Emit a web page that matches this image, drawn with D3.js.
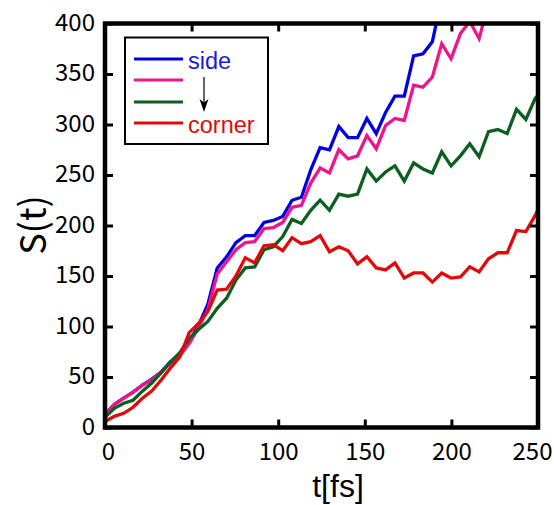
<!DOCTYPE html>
<html>
<head>
<meta charset="utf-8">
<script src="https://cdn.jsdelivr.net/npm/d3@7/dist/d3.min.js"></script>
<style>
  html, body { margin: 0; padding: 0; background: #ffffff; }
  svg { display: block; }
</style>
</head>
<body>
<svg id="chart" width="554" height="505"></svg>
<script>
// ---- data ----
const timeFs = [0, 5.4, 10.8, 16.2, 21.6, 27, 32.4, 37.8, 43.2, 48.6, 54, 59.4, 64.8, 70.2, 75.6, 81,
  86.4, 91.8, 97.2, 102.6, 108, 113.4, 118.8, 124.2, 129.6, 135, 140.4, 145.8, 151.2, 156.6, 162,
  167.4, 172.8, 178.2, 183.6, 189, 194.4, 199.8, 205.2, 210.6, 216, 221.4, 226.8, 232.2, 237.6,
  243, 248.4, 253.8];

const sideBlue = [13, 23, 29, 35, 42, 48, 55, 65, 72, 85, 101, 122, 158, 169, 183, 190,
  190, 203, 205, 209, 225, 228, 255, 277, 275, 298, 287, 287, 306, 291, 312,
  328, 328, 368, 370, 382, 425];

const seriesPink = [12, 23, 29, 35, 42, 47, 55, 64, 71, 83, 99, 117, 152, 164, 176, 183,
  184, 197, 198, 203, 218, 220, 242, 257, 252, 275, 266, 269, 289, 276, 299,
  306, 304, 339, 337, 347, 380, 365, 390, 402, 385, 420];

const seriesGreen = [10, 19, 24, 27, 36, 44, 54, 65, 74, 88, 97, 105, 118, 128, 146, 158,
  159, 176, 179, 189, 206, 202, 215, 225, 215, 231, 229, 231, 256, 244, 253,
  259, 244, 262, 256, 252, 273, 259, 269, 281, 268, 293, 295, 291, 315, 305, 326, 335];

const cornerRed = [6, 11, 14, 20, 29, 36, 47, 59, 70, 94, 103, 115, 136, 137, 150, 168,
  163, 180, 181, 175, 188, 182, 184, 190, 174, 179, 175, 162, 169, 158, 156,
  163, 148, 153, 153, 144, 153, 148, 149, 159, 154, 167, 173, 173, 195, 194, 210, 230];

const xTicks = [0, 50, 100, 150, 200, 250];
const yTicks = [0, 50, 100, 150, 200, 250, 300, 350, 400];
const legendLabels = ["side", "", "", "corner"];
const seriesColors = ["#0000e0", "#f0148c", "#0b5f1f", "#e00a0a"];
const xTitle = "t[fs]";
const yTitle = "S(t)";

// ---- layout ----
const svg = d3.select("#chart");
const L = 105, R = 538, T = 23.5, B = 427.5;
const x = d3.scaleLinear().domain([0, 250]).range([L, R]);
const y = d3.scaleLinear().domain([0, 400]).range([B, T]);
const tickFont = "'Noto Sans CJK JP', 'Noto Sans', sans-serif";

svg.append("defs").append("clipPath").attr("id", "plotclip")
  .append("rect").attr("x", L).attr("y", T).attr("width", R - L).attr("height", B - T);

const allSeries = [sideBlue, seriesPink, seriesGreen, cornerRed];
const line = d3.line().x((d, i) => x(timeFs[i])).y(d => y(d));

const gLines = svg.append("g").attr("clip-path", "url(#plotclip)");
allSeries.forEach((s, i) => {
  gLines.append("path")
    .datum(s)
    .attr("d", line)
    .attr("fill", "none")
    .attr("stroke", seriesColors[i])
    .attr("stroke-width", 3.3)
    .attr("stroke-linejoin", "miter")
    .attr("stroke-linecap", "butt");
});

// ---- axes (inward ticks on all sides) ----
function styleAxis(g) {
  g.select(".domain").remove();
  g.selectAll(".tick line").attr("stroke", "#000").attr("stroke-width", 3);
  g.selectAll(".tick text").attr("fill", "#000")
    .attr("font-family", tickFont).attr("font-size", 24);
}

const gx = svg.append("g").attr("transform", `translate(0,${B})`)
  .call(d3.axisBottom(x).tickValues(xTicks).tickSizeInner(-8).tickSizeOuter(0).tickPadding(15)
    .tickFormat(d3.format("d")));
styleAxis(gx);
gx.selectAll(".tick text").filter(d => d === 0).attr("dx", 3);
gx.selectAll(".tick text").filter(d => d === 250).attr("dx", -6);

const gxt = svg.append("g").attr("transform", `translate(0,${T})`)
  .call(d3.axisTop(x).tickValues(xTicks).tickSizeInner(-8).tickSizeOuter(0).tickFormat(""));
styleAxis(gxt);

const gy = svg.append("g").attr("transform", `translate(${L},0)`)
  .call(d3.axisLeft(y).tickValues(yTicks).tickSizeInner(-8).tickSizeOuter(0).tickPadding(10)
    .tickFormat(d3.format("d")));
styleAxis(gy);
gy.selectAll(".tick text").attr("dy", "0.28em");

const gyr = svg.append("g").attr("transform", `translate(${R},0)`)
  .call(d3.axisRight(y).tickValues(yTicks).tickSizeInner(-8).tickSizeOuter(0).tickFormat(""));
styleAxis(gyr);

// frame
svg.append("rect").attr("x", L).attr("y", T).attr("width", R - L).attr("height", B - T)
  .attr("fill", "none").attr("stroke", "#000").attr("stroke-width", 4.5);

// ---- titles ----
svg.append("text").attr("x", 338).attr("y", 497).attr("text-anchor", "middle")
  .attr("font-family", "'Liberation Sans', Arial, sans-serif").attr("font-size", 32)
  .attr("fill", "#000").text(xTitle);
svg.append("text").attr("transform", "translate(46,225) rotate(-90)").attr("text-anchor", "middle")
  .attr("font-family", tickFont).attr("font-size", 36).attr("fill", "#000").text(yTitle);

// ---- legend ----
const lg = svg.append("g");
lg.append("rect").attr("x", 125).attr("y", 37.5).attr("width", 143).attr("height", 106.5)
  .attr("fill", "#fff").attr("stroke", "#000").attr("stroke-width", 2);
const legY = [59, 80, 102, 123];
legendLabels.forEach((lab, i) => {
  lg.append("line").attr("x1", 134).attr("x2", 183).attr("y1", legY[i]).attr("y2", legY[i])
    .attr("stroke", seriesColors[i]).attr("stroke-width", 3);
  if (lab) {
    lg.append("text").attr("x", 188).attr("y", legY[i] + 9.5)
      .attr("font-family", "'Liberation Sans', Arial, sans-serif").attr("font-size", 23.5)
      .attr("fill", i === 0 ? "#1a1ae0" : "#e00a0a").text(lab);
  }
});
// arrow side -> corner
lg.append("line").attr("x1", 204).attr("x2", 204).attr("y1", 77).attr("y2", 104)
  .attr("stroke", "#333").attr("stroke-width", 1.5);
lg.append("path").attr("d", "M199.5,99 L204,112 L208.5,99 L204,102.5 Z").attr("fill", "#000");
</script>
</body>
</html>
